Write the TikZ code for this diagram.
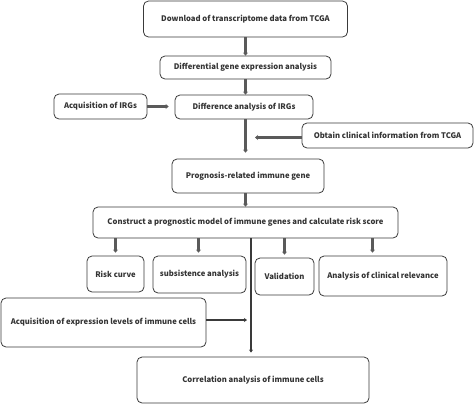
\documentclass[tikz,border=0pt]{standalone}
\usepackage{fontspec}
\setmainfont{Noto Sans CJK SC}
\usetikzlibrary{arrows.meta}

\definecolor{boxline}{HTML}{3A3A3A}
\definecolor{txtgray}{HTML}{333333}
\definecolor{shaftgray}{HTML}{5A5A5A}

\tikzset{
    stepbox/.style={draw=boxline, line width=0.8pt, rounded corners=5pt,
        align=center, text=txtgray, inner sep=0pt,
        font=\fontsize{7.7}{9}\selectfont\bfseries},
    fatarrow/.style={draw=shaftgray, line width=2.4pt,
        -{Stealth[length=3pt,width=5pt]}},
    thinarrow/.style={draw=boxline, line width=1.9pt,
        -{Stealth[length=3pt,width=4pt]}}
}

\begin{document}
\begin{tikzpicture}[x=1pt,y=-1pt]

    \useasboundingbox (0,0) rectangle (474,405);

    % Main chain
    \node[stepbox, minimum width=204pt, minimum height=36pt] (download) at (245.5,19) {Download of transcriptome data from TCGA};
    \node[stepbox, minimum width=171pt, minimum height=23pt] (degs) at (245.5,67.5) {Differential gene expression analysis};
    \node[stepbox, minimum width=138pt, minimum height=24pt] (diffirg) at (244,107) {Difference analysis of IRGs};
    \node[stepbox, minimum width=152pt, minimum height=34pt] (prog) at (248,176) {Prognosis-related immune gene};
    \node[stepbox, minimum width=305pt, minimum height=31pt] (model) at (245.5,222.5) {Construct a prognostic model of immune genes and calculate risk score};

    % Side inputs
    \node[stepbox, minimum width=93pt, minimum height=25pt] (irgs) at (100.5,106.5) {Acquisition of IRGs};
    \node[stepbox, minimum width=171pt, minimum height=25pt] (clinical) at (387.5,135.5) {Obtain clinical information from TCGA};
    \node[stepbox, minimum width=205pt, minimum height=49pt] (cells) at (103.5,322.5) {Acquisition of expression levels of immune cells};

    % Outputs of the model
    \node[stepbox, minimum width=57pt, minimum height=36pt] (risk) at (115.5,274) {Risk curve};
    \node[stepbox, minimum width=93pt, minimum height=37pt] (surv) at (199.5,274.5) {subsistence analysis};
    \node[stepbox, minimum width=59pt, minimum height=37pt] (valid) at (284.5,276.5) {Validation};
    \node[stepbox, minimum width=128pt, minimum height=40pt] (clinrel) at (383,276) {Analysis of clinical relevance};
    \node[stepbox, minimum width=232pt, minimum height=46pt] (corr) at (253,380) {Correlation analysis of immune cells};

    % Free ends on the trunk
    \coordinate (clinend) at (255,137.5);
    \coordinate (cellend) at (247,320);

    % Arrows down the chain
    \draw[fatarrow] (download.south) -- (degs.north);
    \draw[fatarrow] (degs.south) -- ([xshift=1.5pt]diffirg.north);
    \draw[fatarrow, shorten >=6pt] ([xshift=1.5pt]diffirg.south) -- ([xshift=-2.5pt]prog.north);
    \draw[fatarrow] ([xshift=-2.5pt]prog.south) -- (model.north);

    % Arrows from the side
    \draw[fatarrow, shorten >=6pt] (irgs.east) -- (irgs.east -| diffirg.west);
    \draw[fatarrow] (clinend -| clinical.west) -- (clinend);
    \draw[thinarrow] (cellend -| cells.east) -- (cellend);

    % Arrows to the results
    \foreach \target/\dx in {risk/0, surv/-1, valid/0, clinrel/-10.5}
        \draw[fatarrow, shorten >=3pt] ([xshift=\dx pt]\target.north |- model.south) -- ([xshift=\dx pt]\target.north);

    % Trunk to the correlation analysis
    \draw[thinarrow, shorten >=4pt] ([xshift=5.5pt]model.south) -- ([xshift=-2pt]corr.north);

\end{tikzpicture}
\end{document}
